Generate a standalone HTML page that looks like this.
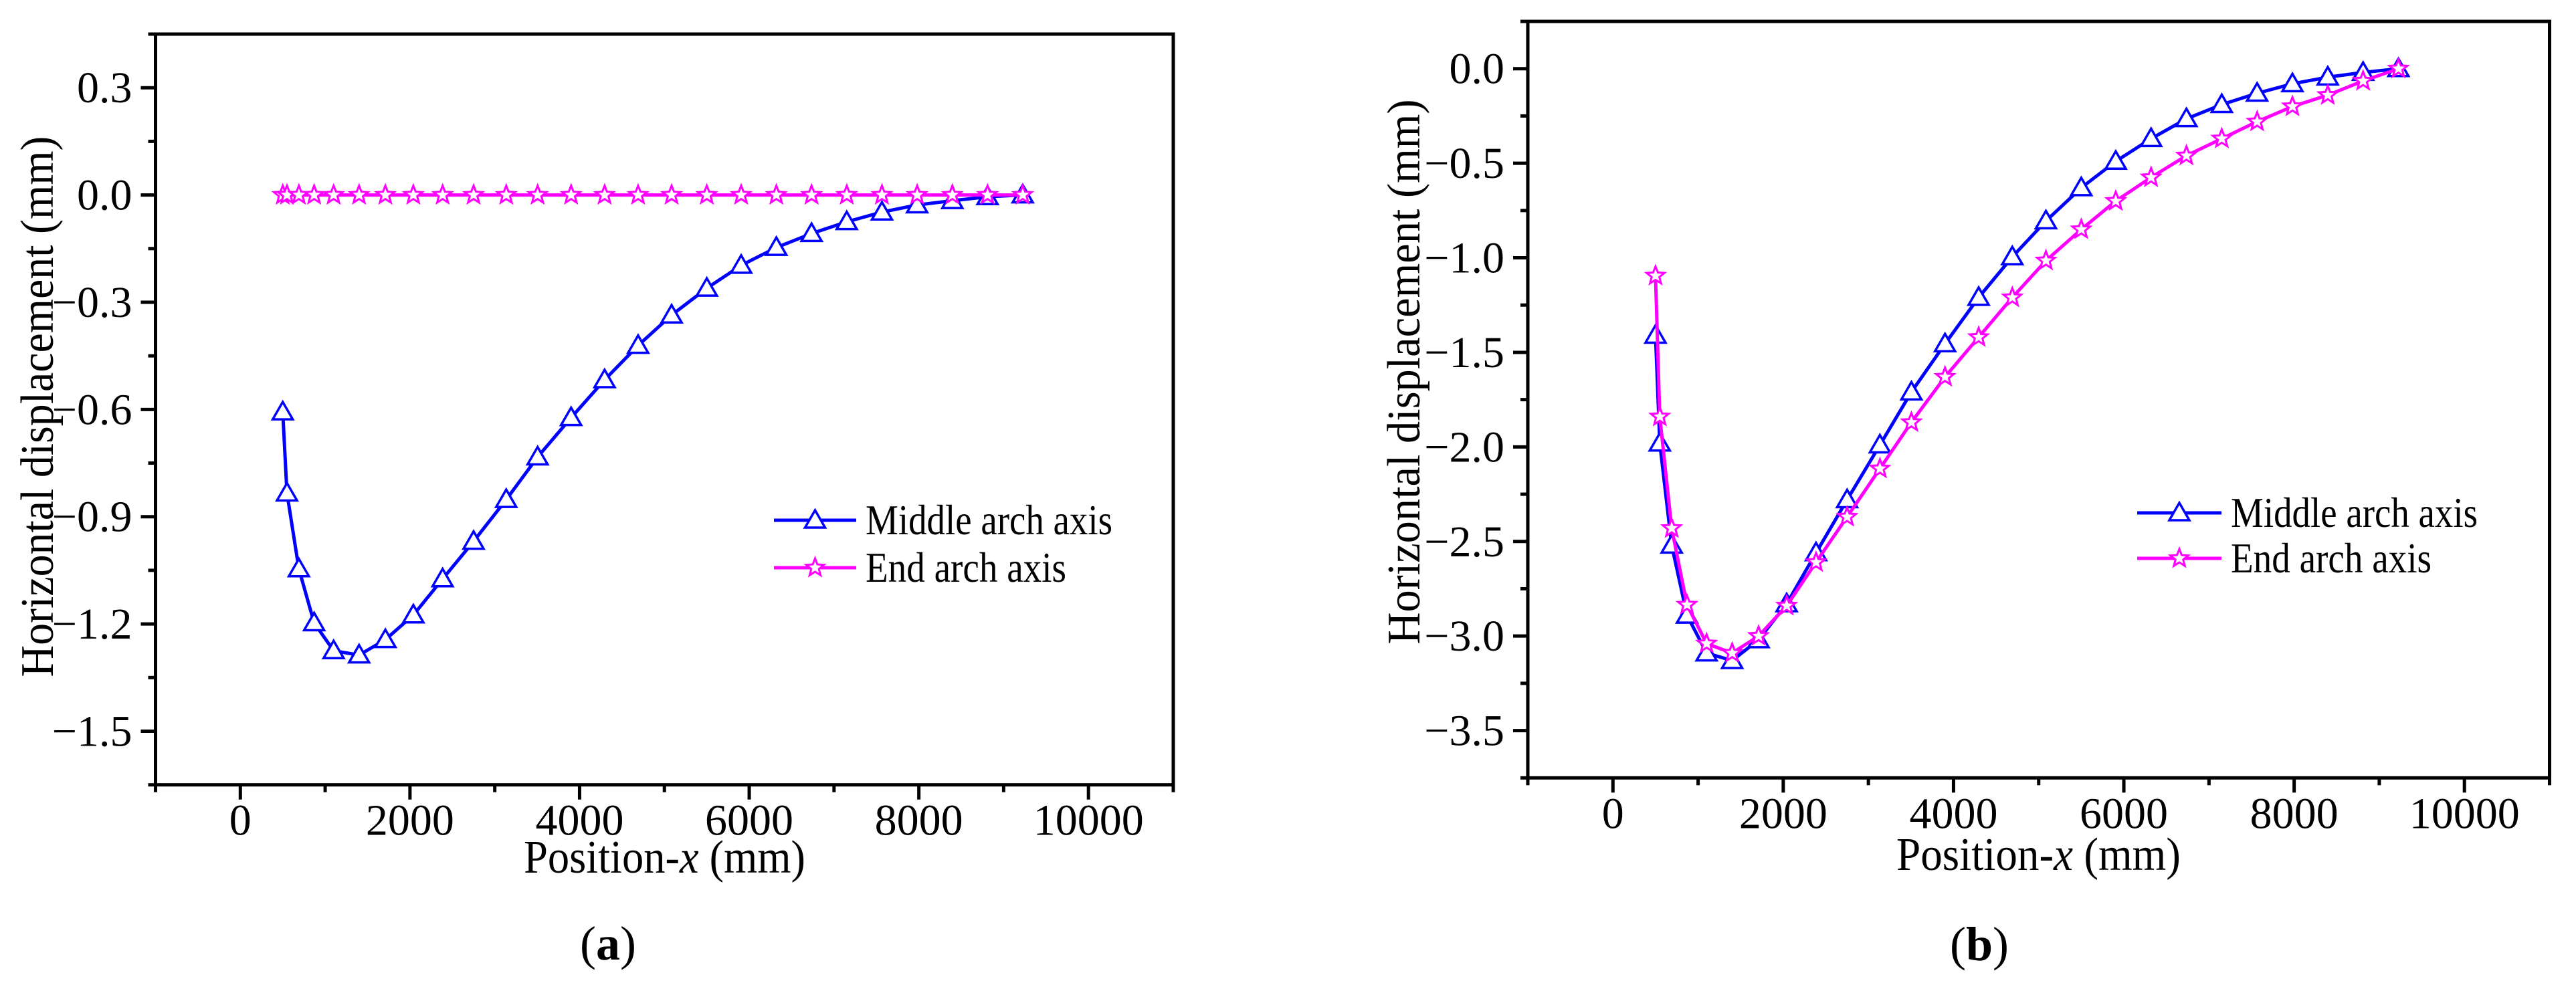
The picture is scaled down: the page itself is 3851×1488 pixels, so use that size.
<!DOCTYPE html>
<html><head><meta charset="utf-8"><style>
html,body{margin:0;padding:0;background:#fff;}
svg{display:block;font-family:"Liberation Serif","Times New Roman",serif;}
</style></head><body>
<svg id="fig" width="3851" height="1488" viewBox="0 0 3851 1488" xmlns="http://www.w3.org/2000/svg"></svg>
<script>
// ---- data ----
const xPos = [500,550,690,870,1100,1400,1710,2040,2385,2750,3135,3505,3900,4295,4690,5085,5500,5905,6320,6735,7150,7565,7980,8395,8810,9225];
const aMiddle = [-0.607,-0.834,-1.046,-1.197,-1.275,-1.287,-1.244,-1.175,-1.074,-0.969,-0.852,-0.733,-0.623,-0.517,-0.421,-0.336,-0.261,-0.197,-0.147,-0.108,-0.075,-0.048,-0.028,-0.016,-0.005,0.0];
const aEnd = [0,0,0,0,0,0,0,0,0,0,0,0,0,0,0,0,0,0,0,0,0,0,0,0,0,0];
const bMiddle = [-1.41,-1.98,-2.52,-2.89,-3.09,-3.13,-3.02,-2.83,-2.56,-2.28,-1.99,-1.71,-1.455,-1.21,-0.995,-0.805,-0.63,-0.49,-0.37,-0.265,-0.19,-0.13,-0.08,-0.045,-0.02,0.0];
const bEnd = [-1.095,-1.84,-2.43,-2.835,-3.04,-3.09,-3.0,-2.84,-2.61,-2.37,-2.115,-1.87,-1.63,-1.42,-1.21,-1.015,-0.85,-0.70,-0.575,-0.46,-0.37,-0.28,-0.20,-0.14,-0.065,0.0];
const xTicks = [0,2000,4000,6000,8000,10000];
const aYTicks = [0.3,0.0,-0.3,-0.6,-0.9,-1.2,-1.5];
const bYTicks = [0.0,-0.5,-1.0,-1.5,-2.0,-2.5,-3.0,-3.5];
const aYLabels = ["0.3","0.0","\u22120.3","\u22120.6","\u22120.9","\u22121.2","\u22121.5"];
const bYLabels = ["0.0","\u22120.5","\u22121.0","\u22121.5","\u22122.0","\u22122.5","\u22123.0","\u22123.5"];
const legendLabels = ["Middle arch axis","End arch axis"];

const NS="http://www.w3.org/2000/svg";
const svg=document.getElementById('fig');
function mk(tag,attrs,parent){const e=document.createElementNS(NS,tag);for(const k in attrs)e.setAttribute(k,attrs[k]);(parent||svg).appendChild(e);return e;}

function tri(g,cx,cy){return mk('polygon',{points:`${cx},${cy-15} ${cx-15},${cy+11} ${cx+15},${cy+11}`,fill:'#fff',stroke:'#0000ff','stroke-width':3.5},g);}
function star(g,cx,cy){const r1=14,r2=6;let p=[];for(let i=0;i<10;i++){const r=i%2?r2:r1;const a=-Math.PI/2+i*Math.PI/5;p.push((cx+r*Math.cos(a)).toFixed(1)+','+(cy+r*Math.sin(a)).toFixed(1));}return mk('polygon',{points:p.join(' '),fill:'#fff',stroke:'#ff00ff','stroke-width':3},g);}

function panel(o){
  const g=mk('g',{});
  
  
  const X=v=>o.x0+(v-o.xmin)/(o.xmax-o.xmin)*(o.x1-o.x0);
  const Y=v=>o.y1-(v-o.ymin)/(o.ymax-o.ymin)*(o.y1-o.y0);
  const series=[{vals:o.mid,color:'#0000ff',m:tri,n:'middle-arch-axis'},{vals:o.end,color:'#ff00ff',m:star,n:'end-arch-axis'}];
  [0,1].forEach(si=>{
    const s=series[si];
    const sg=mk('g',{},g);
    
    
    const pts=xPos.map((x,i)=>X(x).toFixed(1)+','+Y(s.vals[i]).toFixed(1)).join(' ');
    const pl=mk('polyline',{points:pts,fill:'none',stroke:s.color,'stroke-width':5,'stroke-linejoin':'round'},sg);
    
    
    xPos.forEach((x,i)=>{const m=s.m(sg,X(x),Y(s.vals[i]));
      
      });
  });
  const fr=mk('rect',{x:o.x0,y:o.y0,width:o.x1-o.x0,height:o.y1-o.y0,fill:'none',stroke:'#000','stroke-width':5},g);
  
  
  for(let v=o.xmin;v<=o.xmax;v+=1000){const major=xTicks.includes(v);
    const t=mk('line',{x1:X(v),x2:X(v),y1:o.y1,y2:o.y1+(major?22:11),stroke:'#000','stroke-width':5},g);
    
    }
  xTicks.forEach(v=>{const t=mk('text',{x:X(v),y:o.y1+75,'font-size':66,'text-anchor':'middle'},g);t.textContent=String(v);
    
    });
  const step=o.yTicks[0]-o.yTicks[1];
  for(let k=0;k<o.yTicks.length*2+2;k++){const v=o.yTicks[0]+step/2*(1-k);if(v<o.ymin-1e-9)break;const major=k%2===1;
    const t=mk('line',{x1:o.x0,x2:o.x0-(major?22:11),y1:Y(v),y2:Y(v),stroke:'#000','stroke-width':5},g);
    
    }
  o.yTicks.forEach((v,i)=>{const t=mk('text',{x:o.x0-35,y:Y(v)+22,'font-size':66,'text-anchor':'end'},g);t.textContent=o.yLabels[i];
    
    });
  const xt=mk('text',{x:o.xt[0],y:o.xt[1],'font-size':70,textLength:o.xt[2],lengthAdjust:'spacingAndGlyphs'},g);
  xt.innerHTML='Position-<tspan font-style="italic">x</tspan> (mm)';
  
  
  const yt=mk('text',{x:0,y:0,'font-size':70,'text-anchor':'middle',textLength:o.yt[2],lengthAdjust:'spacingAndGlyphs',transform:`translate(${o.yt[0]},${o.yt[1]}) rotate(-90)`},g);
  yt.textContent='Horizontal displacement (mm)';
  
  
  const lg=mk('g',{},g);
  
  
  [[o.lg[2],'#0000ff',tri],[o.lg[3],'#ff00ff',star]].forEach((e,i)=>{
    const eg=mk('g',{},lg);
    
    
    mk('line',{x1:o.lg[0],x2:o.lg[1],y1:e[0],y2:e[0],stroke:e[1],'stroke-width':5},eg);
    e[2](eg,(o.lg[0]+o.lg[1])/2,e[0]);
    const t=mk('text',{x:o.lg[1]+14,y:e[0]+21,'font-size':64,textLength:i?o.lg[5]:o.lg[4],lengthAdjust:'spacingAndGlyphs'},eg);
    t.textContent=legendLabels[i];
  });
  const pl=mk('text',{x:o.pl[0],y:o.pl[1],'font-size':72,'text-anchor':'middle'},g);
  pl.innerHTML='(<tspan font-weight="bold">'+o.letter+'</tspan>)';
  
  
}
panel({name:'panel-a',x0:232.5,x1:1754,y0:51,y1:1173.7,xmin:-1000,xmax:11000,ymin:-1.65,ymax:0.45,
  mid:aMiddle,end:aEnd,yTicks:aYTicks,yLabels:aYLabels,
  xt:[783,1305,421],yt:[79,608,809],lg:[1157,1280,778,849,369,300],pl:[909,1435],letter:'a'});
panel({name:'panel-b',x0:2284,x1:3811.5,y0:32,y1:1163.3,xmin:-1000,xmax:11000,ymin:-3.75,ymax:0.25,
  mid:bMiddle,end:bEnd,yTicks:bYTicks,yLabels:bYLabels,
  xt:[2835,1301,425],yt:[2122,556,815],lg:[3195,3321,767,835,369,300],pl:[2959,1436],letter:'b'});
</script>
</body></html>
